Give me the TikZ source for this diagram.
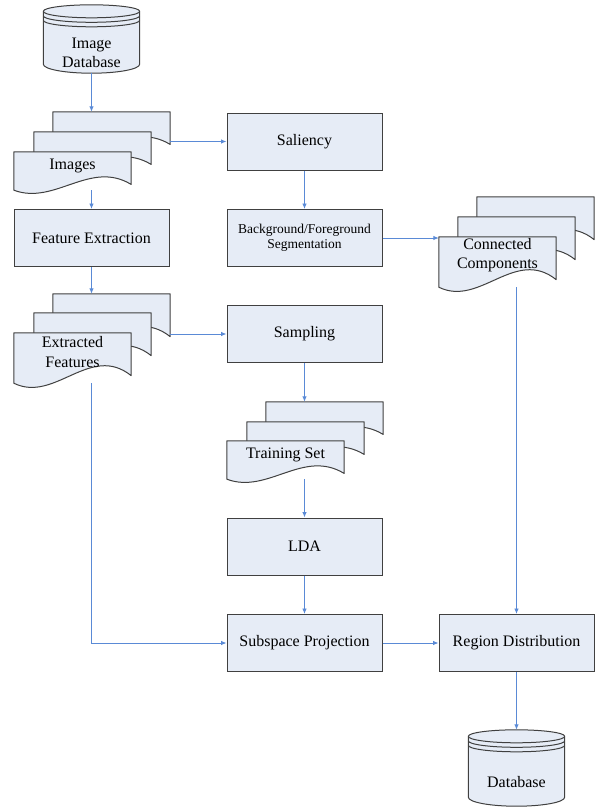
\documentclass[tikz,border=0pt]{standalone}
\usepackage{fontspec}
\setmainfont{Liberation Serif}
\usetikzlibrary{calc}
\usetikzlibrary{positioning}
\usetikzlibrary{arrows.meta}

\definecolor{boxfill}{RGB}{230,236,246}
\definecolor{boxline}{RGB}{64,64,64}
\definecolor{flowblue}{RGB}{90,138,214}

\tikzset{
  box/.style={draw=boxline, fill=boxfill, line width=1pt, minimum width=155pt,
    minimum height=57pt, inner sep=2pt, align=center, font=\fontsize{16}{19}\selectfont},
  sheet/.style={minimum width=117pt, minimum height=#1, inner sep=0pt},
  drum/.style={minimum width=96pt, minimum height=#1, inner sep=0pt},
  lbl/.style={align=center, inner sep=1pt, font=\fontsize{16}{19.5}\selectfont},
  outline/.style={draw=boxline, fill=boxfill, line width=1pt, line join=round},
  flow/.style={draw=flowblue, line width=0.9pt, -{Latex[length=5.5pt,width=4.5pt]}}
}

% document sheet with a wavy lower edge
\newcommand\drawsheet[1]{%
  \path[outline] let \p1=(#1.north west), \p2=(#1.south east) in
    (\p1) -- (\x2,\y1) -- (\x2,{\y2+0.15*(\y1-\y2)})
    .. controls ({\x1+0.65*(\x2-\x1)},{\y2+0.8*(\y1-\y2)})
            and ({\x1+0.35*(\x2-\x1)},{\y2-0.4*(\y1-\y2)}) .. (\x1,\y2) -- cycle;}

% database drum
\newcommand\drawdrum[1]{%
  \path[outline] let \p1=(#1.north west), \p2=(#1.south east) in
    (\x1,{\y1-6.5pt}) -- (\x1,{\y2+9pt})
    arc[start angle=180, end angle=360, x radius={(\x2-\x1)/2}, y radius=9pt]
    -- (\x2,{\y1-6.5pt})
    arc[start angle=0, end angle=180, x radius={(\x2-\x1)/2}, y radius=6.5pt] -- cycle;
  \draw[outline, fill=none] let \p1=(#1.north west), \p2=(#1.south east) in
    (\x1,{\y1-6.5pt}) arc[start angle=180, end angle=360, x radius={(\x2-\x1)/2}, y radius=6.5pt]
    (\x1,{\y1-11pt}) arc[start angle=180, end angle=360, x radius={(\x2-\x1)/2}, y radius=6.5pt]
    (\x1,{\y1-15.5pt}) arc[start angle=180, end angle=360, x radius={(\x2-\x1)/2}, y radius=6.5pt];}

\begin{document}
\begin{tikzpicture}[x=1pt,y=-1pt]
\useasboundingbox (0,0) rectangle (595,807);

% process boxes
\node[box] (sal) at (304.5,141.5) {Saliency};
\node[box, font=\fontsize{13.5}{15.5}\selectfont] (seg) at (304.5,238) {Background/Foreground\\Segmentation};
\node[box] (featx) at (91.5,238) {Feature Extraction};
\node[box] (samp) at (304.5,334) {Sampling};
\node[box] (lda) at (304.5,546.5) {LDA};
\node[box] (subsp) at (304.5,643) {Subspace Projection};
\node[box] (regd) at (516.5,643) {Region Distribution};

% data stores
\node[drum=68pt] (imgdb) at (91.5,39) {};
\node[drum=76pt] (db) at (516.5,768) {};
\drawdrum{imgdb}
\drawdrum{db}
\node[lbl] (imgdb-t) at ([yshift=-14pt]imgdb.center) {Image\\Database};
\node[lbl] (db-t) at ([yshift=-14pt]db.center) {Database};

% document stacks: back, middle, front
\node[sheet=38pt] (img3) at (111.5,131) {};
\node[sheet=38pt] (img2) at (92.5,151) {};
\node[sheet=38pt] (img) at (72.5,171) {};
\node[sheet=50pt] (ef3) at (111.5,319) {};
\node[sheet=50pt] (ef2) at (92.5,338) {};
\node[sheet=50pt] (ef) at (72.5,358) {};
\node[sheet=50pt] (cc3) at (535.5,222) {};
\node[sheet=50pt] (cc2) at (516.5,242) {};
\node[sheet=50pt] (cc) at (497.5,262) {};
\node[sheet=38pt] (ts3) at (324.5,421) {};
\node[sheet=38pt] (ts2) at (305.5,441) {};
\node[sheet=38pt] (ts) at (285.5,460) {};
\foreach \s in {img3,img2,img,ef3,ef2,ef,cc3,cc2,cc,ts3,ts2,ts} {\drawsheet{\s}}

\node[lbl] (img-t) at ([yshift=5pt]img.center) {Images};
\node[lbl] (ef-t) at ([yshift=6pt]ef.center) {Extracted\\Features};
\node[lbl] (cc-t) at ([yshift=7pt]cc.center) {Connected\\Components};
\node[lbl] (ts-t) at ([yshift=5pt]ts.center) {Training Set};

% connectors
\draw[flow] (imgdb) -- (imgdb |- img3.north);
\draw[flow] (img3.east |- sal.west) -- (sal.west);
\draw[flow] (featx.north |- img.south) -- (featx.north);
\draw[flow] (featx.south) -- (featx.south |- ef3.north);
\draw[flow] (ef3.east |- samp.west) -- (samp.west);
\draw[flow] (featx.south |- ef.south) |- (subsp.west);
\draw[flow] (sal) -- (seg);
\draw[flow] (seg.east) -- (seg.east -| cc.west);
\draw[flow] (regd.north |- cc.south) -- (regd.north);
\draw[flow] (samp.south) -- (samp.south |- ts3.north);
\draw[flow] (lda.north |- ts.south) -- (lda.north);
\draw[flow] (lda) -- (subsp);
\draw[flow] (subsp) -- (regd);
\draw[flow] (regd) -- (db);
\end{tikzpicture}
\end{document}
